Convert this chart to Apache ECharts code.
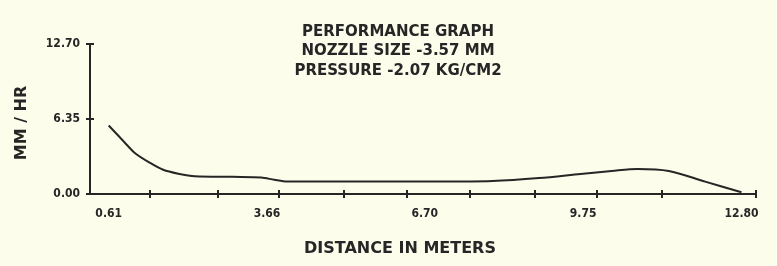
<!DOCTYPE html>
<html>
<head>
<meta charset="utf-8">
<script src="https://cdn.jsdelivr.net/npm/echarts@6/dist/echarts.min.js"></script>
<style>
html,body{margin:0;padding:0;background:#fdfdec;}
#chart{width:777px;height:266px;}
</style>
</head>
<body>
<div id="chart"></div>
<script>
// ---- data ----
var distance = [0.61, 0.90, 1.12, 1.40, 1.66, 1.95, 2.27, 3.00, 3.55, 3.80, 4.05, 5.00, 6.00, 7.00, 8.00, 8.90, 9.70, 10.30, 10.80, 11.40, 12.10, 12.80];
var rate     = [5.80, 4.45, 3.45, 2.65, 2.05, 1.72, 1.50, 1.45, 1.40, 1.20, 1.05, 1.05, 1.05, 1.05, 1.10, 1.35, 1.70, 1.95, 2.12, 1.95, 1.05, 0.15];
var xLabelValues = [0.61, 3.66, 6.70, 9.75, 12.80];
var xTickValues  = [1.41, 2.72, 3.89, 5.14, 6.36, 7.57, 8.81, 10.02, 11.27, 13.08];
var yTickValues  = [0, 6.35, 12.70];
var xMin = 0.25, xMax = 13.08;
var yMin = 0, yMax = 12.70;
var titleLines = ['PERFORMANCE GRAPH', 'NOZZLE SIZE -3.57 MM', 'PRESSURE -2.07 KG/CM2'];
var xName = 'DISTANCE IN METERS';
var yName = 'MM / HR';

// ---- chart ----
var ink = '#262626';
var labelFont = {fontFamily: 'DejaVu Sans Condensed, Roboto, sans-serif', fontWeight: 'bold', fontSize: 12, color: ink};
var chart = echarts.init(document.getElementById('chart'), null, {renderer: 'canvas'});
var pts = distance.map(function (d, i) { return [d, rate[i]]; });

chart.setOption({
  backgroundColor: '#fdfdec',
  animation: false,
  title: {
    text: titleLines.join('\n'),
    left: 393, top: 17, textAlign: 'center',
    textStyle: {fontFamily: 'DejaVu Sans', fontWeight: 'bold', fontSize: 15, lineHeight: 19.5, color: ink}
  },
  grid: {left: 90, right: 21, top: 44, bottom: 72},
  xAxis: [{
    type: 'value', min: xMin, max: xMax,
    name: xName, nameLocation: 'middle', nameGap: 47,
    nameTextStyle: {fontFamily: 'DejaVu Sans', fontWeight: 'bold', fontSize: 16, color: ink, padding: [0, 46, 0, 0]},
    axisLine: {show: true, lineStyle: {color: ink, width: 2}},
    axisTick: {show: true, length: 4, lineStyle: {color: ink, width: 2}, customValues: xTickValues},
    axisLabel: Object.assign({show: true, margin: 14, customValues: xLabelValues,
      formatter: function (v) { return v.toFixed(2); }}, labelFont),
    splitLine: {show: false}
  }, {
    type: 'value', min: xMin, max: xMax, position: 'bottom', offset: 0,
    axisLine: {show: false},
    axisTick: {show: true, inside: true, length: 4, lineStyle: {color: ink, width: 2}, customValues: xTickValues},
    axisLabel: {show: false},
    splitLine: {show: false}
  }],
  yAxis: [{
    type: 'value', min: yMin, max: yMax,
    name: yName, nameLocation: 'middle', nameGap: 60, nameRotate: 90,
    nameTextStyle: {fontFamily: 'DejaVu Sans', fontWeight: 'bold', fontSize: 16, color: ink, padding: [0, 8, 0, 0]},
    axisLine: {show: true, lineStyle: {color: ink, width: 2}},
    axisTick: {show: true, length: 4, lineStyle: {color: ink, width: 2}, customValues: yTickValues},
    axisLabel: Object.assign({show: true, margin: 10, customValues: yTickValues,
      formatter: function (v) { return v.toFixed(2); }}, labelFont),
    splitLine: {show: false}
  }, {
    type: 'value', min: yMin, max: yMax, position: 'left', offset: 0,
    axisLine: {show: false},
    axisTick: {show: true, inside: true, length: 4, lineStyle: {color: ink, width: 2}, customValues: yTickValues},
    axisLabel: {show: false},
    splitLine: {show: false}
  }],
  series: [{
    type: 'line', xAxisIndex: 0, yAxisIndex: 0,
    data: pts, showSymbol: false, smooth: 0.3,
    lineStyle: {color: ink, width: 2}
  }]
});
</script>
</body>
</html>
